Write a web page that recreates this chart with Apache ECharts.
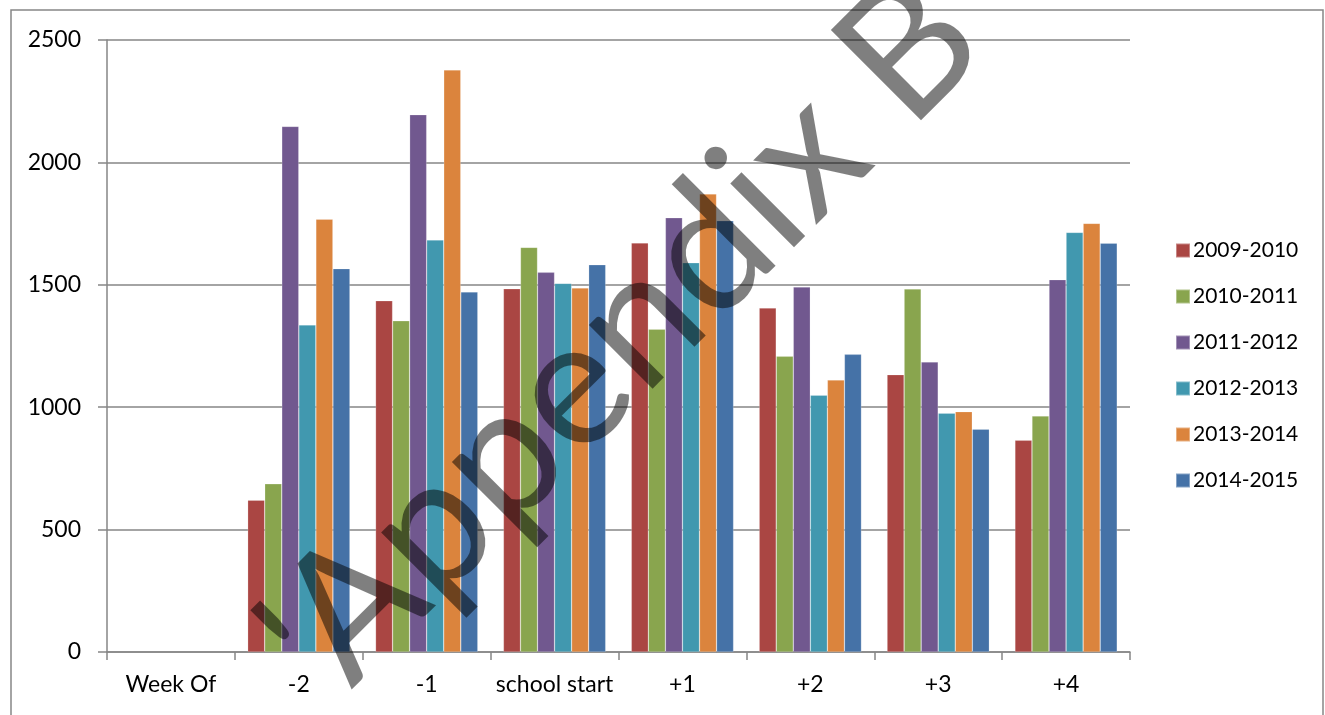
<!DOCTYPE html>
<html>
<head>
<meta charset="utf-8">
<title>Weekly counts around school start</title>
<script src="https://cdn.jsdelivr.net/npm/echarts@6/dist/echarts.min.js"></script>
<style>
  html, body { margin: 0; padding: 0; background: #fff; }
  #chart { width: 1325px; height: 715px; }
</style>
</head>
<body>
<div id="chart"></div>
<script>
// Week categories relative to the first week of school
const weeks = ['Week Of', '-2', '-1', 'school start', '+1', '+2', '+3', '+4'];

// One array per school year (the "Week Of" column is empty)
const y2009_2010 = [null, 620, 1435, 1484, 1671, 1405, 1133, 865];
const y2010_2011 = [null, 687, 1353, 1653, 1319, 1208, 1483, 964];
const y2011_2012 = [null, 2147, 2195, 1551, 1774, 1491, 1185, 1521];
const y2012_2013 = [null, 1336, 1683, 1506, 1590, 1049, 976, 1714];
const y2013_2014 = [null, 1768, 2378, 1487, 1871, 1111, 982, 1751];
const y2014_2015 = [null, 1566, 1471, 1582, 1762, 1216, 910, 1670];

const seasonNames = ['2009-2010', '2010-2011', '2011-2012', '2012-2013', '2013-2014', '2014-2015'];
const seasonValues = [y2009_2010, y2010_2011, y2011_2012, y2012_2013, y2013_2014, y2014_2015];
const seasonColors = ['#AA4643', '#89A54E', '#71588F', '#4198AF', '#DB843D', '#4572A7'];

const yTicks = { min: 0, max: 2500, step: 500 };

const axisGray = '#868686';
const fontFamily = 'Lato, "Open Sans", sans-serif';

const chart = echarts.init(document.getElementById('chart'), null, { renderer: 'canvas' });

const series = seasonNames.map((name, i) => ({
  name: name,
  type: 'bar',
  data: seasonValues[i],
  barGap: '0%',
  barCategoryGap: '20%',
  itemStyle: {
    color: seasonColors[i],
    borderColor: 'rgba(255,255,255,0.35)',
    borderWidth: 0.6
  },
  emphasis: { disabled: true }
}));

chart.setOption({
  animation: false,
  backgroundColor: '#ffffff',
  color: seasonColors,
  grid: { left: 107, top: 40, right: 195, bottom: 63, containLabel: false },
  legend: {
    orient: 'vertical',
    left: 1170,
    top: 235,
    itemWidth: 14,
    itemHeight: 14,
    itemGap: 25,
    icon: 'rect',
    selectedMode: false,
    textStyle: { fontFamily: fontFamily, fontSize: 21, color: '#000', padding: [0, 0, 0, -2] },
    data: seasonNames
  },
  xAxis: {
    type: 'category',
    data: weeks,
    boundaryGap: true,
    axisLine: { show: true, lineStyle: { color: axisGray, width: 1.5 } },
    axisTick: { show: true, interval: 0, length: 8, lineStyle: { color: axisGray, width: 1.5 } },
    axisLabel: { interval: 0, margin: 21, color: '#000', fontFamily: fontFamily, fontSize: 23 },
    splitLine: { show: false }
  },
  yAxis: {
    type: 'value',
    min: yTicks.min,
    max: yTicks.max,
    interval: yTicks.step,
    axisLine: { show: true, lineStyle: { color: axisGray, width: 1.5 } },
    axisTick: { show: true, length: 9, lineStyle: { color: axisGray, width: 1.5 } },
    axisLabel: {
      margin: 26,
      color: '#000',
      fontFamily: fontFamily,
      fontSize: 23,
      formatter: (v) => String(v)
    },
    splitLine: { show: true, lineStyle: { color: axisGray, width: 1.5 } }
  },
  graphic: [
    {
      // chart frame
      type: 'rect',
      silent: true,
      z: 0,
      shape: { x: 11, y: 10, width: 1312, height: 730 },
      style: { fill: 'none', stroke: axisGray, lineWidth: 1.5 }
    },
    {
      // diagonal watermark
      type: 'text',
      silent: true,
      z: 100,
      x: 292,
      y: 668,
      rotation: Math.PI / 4,
      style: {
        text: "'Appendix B",
        fill: 'rgba(0,0,0,0.5)',
        font: '178px ' + fontFamily,
        textAlign: 'left',
        textVerticalAlign: 'middle',
        align: 'left',
        verticalAlign: 'middle'
      }
    }
  ],
  series: series
});
</script>
</body>
</html>
